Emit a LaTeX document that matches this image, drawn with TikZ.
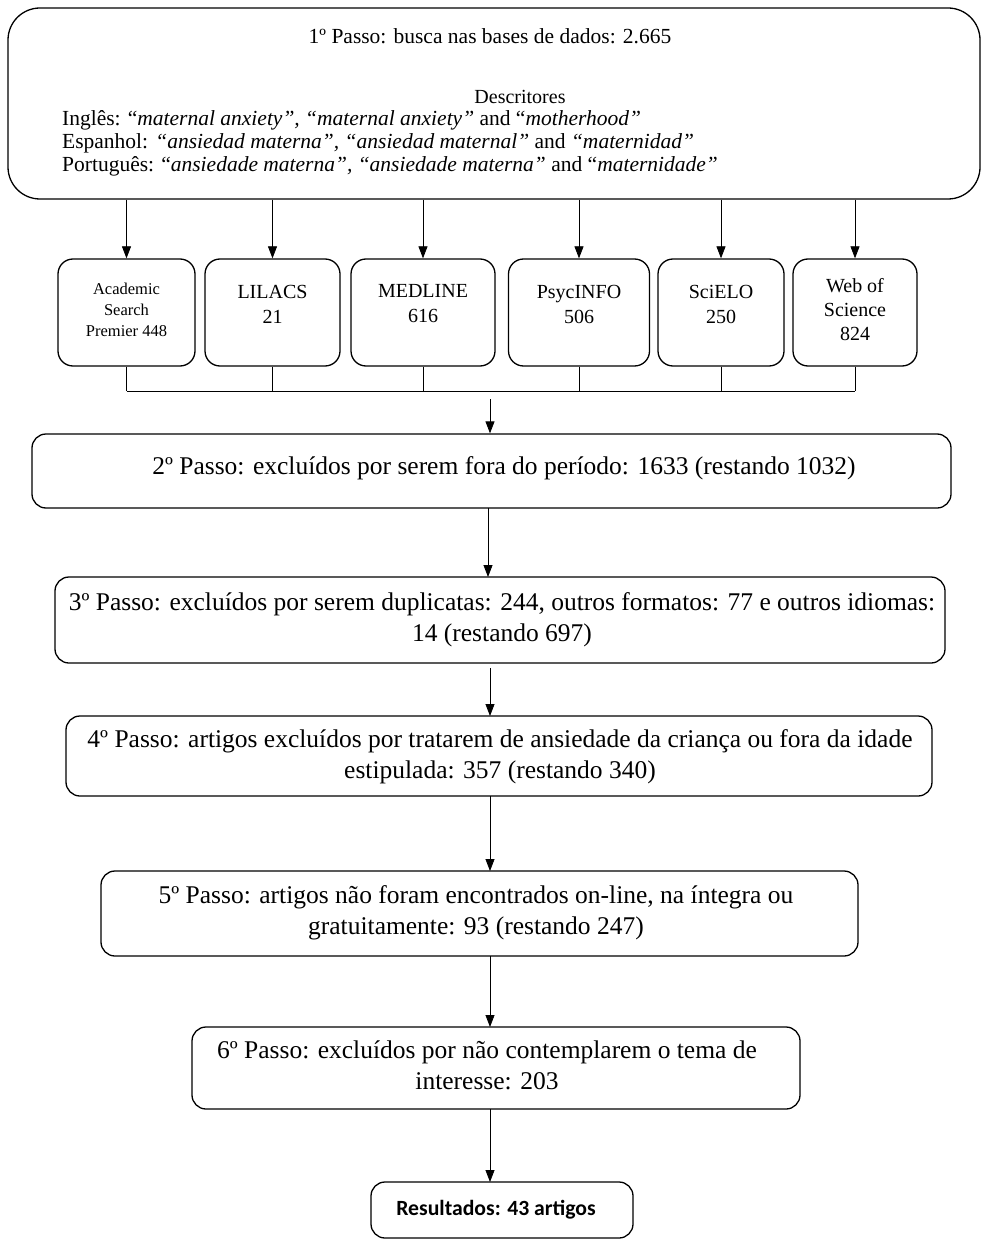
\documentclass[tikz,border=0pt]{standalone}
\usepackage{fontspec}
\setmainfont{Liberation Serif}
\newfontfamily\carl{Carlito}
\usetikzlibrary{arrows.meta}
\begin{document}
\begin{tikzpicture}[x=1pt,y=-1pt,
  box/.style={draw,line width=1.3pt,rounded corners=14pt,inner sep=0pt},
  dbox/.style={draw,line width=1.3pt,rounded corners=15pt,inner sep=0pt,minimum height=107pt},
  dtxt/.style={inner sep=0pt,font=\fontsize{20}{25}\selectfont,align=center},
  arr/.style={-{Triangle[length=12pt,width=9pt]},line width=0.8pt},
  conn/.style={line width=0.6pt},
  txt/.style={inner sep=0pt,font=\fontsize{25.5}{31}\selectfont,align=center}]
\useasboundingbox (0,0) rectangle (984,1241);
% top box
\node[box,rounded corners=32pt,minimum width=972pt,minimum height=191pt] (b1) at (494,103.5) {};
\node[inner sep=0pt,font=\fontsize{21.5}{24}\selectfont] (t1) at (490,36) {1º Passo: busca nas bases de dados: 2.665};
\node[inner sep=0pt,font=\fontsize{20}{23}\selectfont] (t2) at (520,97) {Descritores};
\node[inner sep=0pt,anchor=north west,align=left,font=\fontsize{21.5}{23}\selectfont] (t3) at (62,110) {Inglês: “\textit{maternal anxiety”, “maternal anxiety”} and “\textit{motherhood”}\\
Espanhol: \textit{“ansiedad materna”, “ansiedad maternal”} and \textit{“maternidad”}\\
Português: “\textit{ansiedade materna”, “ansiedade materna”} and “\textit{maternidade”}};
% databases
\node[dbox,minimum width=137pt] (d1) at (126.5,312.5) {};
\node[dbox,minimum width=135pt] (d2) at (272.5,312.5) {};
\node[dbox,minimum width=144pt] (d3) at (423,312.5) {};
\node[dbox,minimum width=141pt] (d4) at (579,312.5) {};
\node[dbox,minimum width=126pt] (d5) at (721,312.5) {};
\node[dbox,minimum width=124pt] (d6) at (855,312.5) {};
\node[dtxt,font=\fontsize{16.5}{21}\selectfont] (d1t) at (126.5,310) {Academic\\Search\\Premier 448};
\node[dtxt] (d2t) at (272.5,304) {LILACS\\21};
\node[dtxt] (d3t) at (423,304) {MEDLINE\\616};
\node[dtxt] (d4t) at (579,304) {PsycINFO\\506};
\node[dtxt] (d5t) at (721,304) {SciELO\\250};
\node[dtxt,font=\fontsize{20}{24}\selectfont] (d6t) at (855,310) {Web of\\Science\\824};
\foreach \d in {d1,d2,d3,d4,d5,d6}{
  \draw[arr] (b1.south -| \d.north) -- (\d.north);
}
\coordinate (h1) at (126.5,391);
\coordinate (h2) at (855,391);
\foreach \d in {d1,d2,d3,d4,d5,d6}{
  \draw[conn] (\d.south) -- (\d.south |- h1);
}
\draw[conn] (h1) -- (h2);
% steps
\node[box,minimum width=919pt,minimum height=74pt] (s2) at (491.5,471) {};
\node[txt] (s2t) at (504,468) {2º Passo: excluídos por serem fora do período: 1633 (restando 1032)};
\coordinate (a2) at (490,399);
\draw[arr] (a2) -- (a2 |- s2.north);

\node[box,minimum width=890pt,minimum height=86pt] (s3) at (500,620) {};
\node[txt] (s3t) at (502,620) {3º Passo: excluídos por serem duplicatas: 244, outros formatos: 77 e outros idiomas:\\14 (restando 697)};
\draw[arr] (488,508) -- (488,577);

\node[box,minimum width=866pt,minimum height=80pt] (s4) at (499,756) {};
\node[txt] (s4t) at (500,757) {4º Passo: artigos excluídos por tratarem de ansiedade da criança ou fora da idade\\estipulada: 357 (restando 340)};
\draw[arr] (490,668) -- (490,716);

\node[box,minimum width=757pt,minimum height=85pt] (s5) at (479.5,913.5) {};
\node[txt] (s5t) at (476,912.5) {5º Passo: artigos não foram encontrados on-line, na íntegra ou\\gratuitamente: 93 (restando 247)};
\draw[arr] (490,796) -- (490,871);

\node[box,minimum width=608pt,minimum height=82pt] (s6) at (496,1068) {};
\node[txt] (s6t) at (487,1065) {6º Passo: excluídos por não contemplarem o tema de\\interesse: 203};
\draw[arr] (490,956) -- (490,1027);

\node[box,minimum width=262pt,minimum height=56pt] (s7) at (502,1210) {};
\node[inner sep=0pt,font=\carl\bfseries\fontsize{21.7}{25}\selectfont] (s7t) at (496,1210) {Resultados: 43 artigos};
\draw[arr] (490,1109) -- (490,1182);
\end{tikzpicture}
\end{document}
